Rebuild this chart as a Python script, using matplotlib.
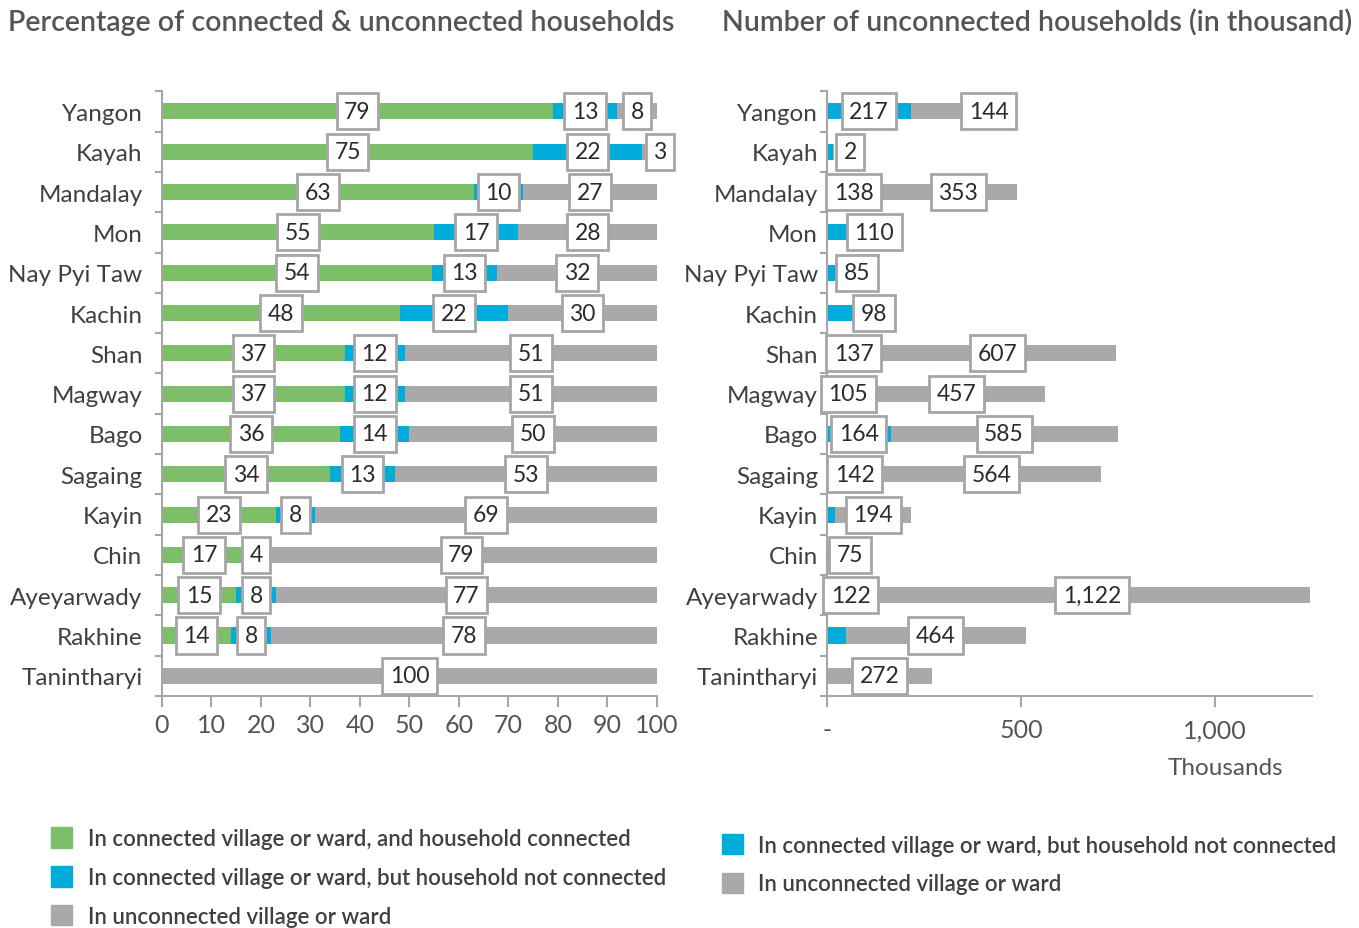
import numpy as np
import matplotlib.pyplot as plt
from matplotlib.patches import Patch

plt.rcParams['font.family'] = ['Lato', 'DejaVu Sans']

regions = ['Yangon', 'Kayah', 'Mandalay', 'Mon', 'Nay Pyi Taw', 'Kachin', 'Shan',
           'Magway', 'Bago', 'Sagaing', 'Kayin', 'Chin', 'Ayeyarwady', 'Rakhine',
           'Tanintharyi']

# percentages
pct_connected = [79, 75, 63, 55, 54.5, 48, 37, 37, 36, 34, 23, 17, 15, 14, 0]
pct_village_only = [13, 22, 10, 17, 13.2, 22, 12, 12, 14, 13, 8, 4, 8, 8, 0]
pct_unconnected = [8, 3, 27, 28, 32.3, 30, 51, 51, 50, 53, 69, 79, 77, 78, 100]

# thousands of unconnected households
num_village_only = [217, 15, 138, 67, 35, 72, 137, 105, 164, 142, 22, 4, 122, 48, 0]
num_unconnected = [144, 2, 353, 110, 85, 98, 607, 457, 585, 564, 194, 75, 1122, 464, 272]
show_blue_label = [True, False, True, False, False, False, True, True, True, True,
                   False, False, True, False, False]

GREEN = '#7dbf69'
BLUE = '#00acd9'
GRAY = '#a9a9ab'
EDGE = '#a6a6a6'
TXT = '#404040'

fig = plt.figure(figsize=(13.59, 9.29), dpi=100)
ax1 = fig.add_axes([0.1192, 0.2497, 0.3642, 0.651])
ax2 = fig.add_axes([0.6085, 0.2497, 0.3569, 0.651])

y = np.arange(len(regions))
h = 0.4
box = dict(boxstyle='square,pad=0.33', fc='white', ec=EDGE, lw=2)


def lab(ax, x, yy, s):
    ax.text(x, yy, s, ha='center', va='center', fontsize=16.5, color='#2b2b2b',
            bbox=box, zorder=5)


g = np.array(pct_connected)
b = np.array(pct_village_only)
u = np.array(pct_unconnected)
ax1.barh(y, g, height=h, color=GREEN)
ax1.barh(y, b, left=g, height=h, color=BLUE)
ax1.barh(y, u, left=g + b, height=h, color=GRAY)
for i in range(len(regions)):
    if g[i] > 0:
        lab(ax1, g[i] / 2, y[i], f'{g[i]:.0f}')
    if b[i] > 0:
        lab(ax1, g[i] + b[i] / 2, y[i], f'{b[i]:.0f}')
    xu = g[i] + b[i] + u[i] / 2
    if u[i] < 5:
        xu = 100.6
    lab(ax1, xu, y[i], f'{u[i]:.0f}')

nb = np.array(num_village_only)
nu = np.array(num_unconnected)
ax2.barh(y, nb, height=h, color=BLUE)
ax2.barh(y, nu, left=nb, height=h, color=GRAY)
for i in range(len(regions)):
    if show_blue_label[i]:
        lab(ax2, max(nb[i] / 2, 55), y[i], f'{nb[i]:,}')
        xg = max(nb[i] + nu[i] / 2, nb[i] + 200)
    else:
        xg = max(nb[i] + nu[i] / 2, 60)
    lab(ax2, xg, y[i], f'{nu[i]:,}')

for ax, pad in ((ax1, 14), (ax2, 6.5)):
    ax.set_ylim(len(regions) - 0.5, -0.5)
    ax.set_yticks(y)
    ax.set_yticklabels(regions, fontsize=17.5, color=TXT)
    ax.set_yticks(np.arange(-0.5, len(regions)), minor=True)
    ax.tick_params(axis='y', which='major', length=0, pad=pad)
    ax.tick_params(axis='y', which='minor', length=5, color=EDGE, width=1.5)
    ax.tick_params(axis='x', length=8, color=EDGE, width=1.5, labelsize=18,
                   labelcolor='#555555')
    for s in ('top', 'right'):
        ax.spines[s].set_visible(False)
    for s in ('left', 'bottom'):
        ax.spines[s].set_color(EDGE)
        ax.spines[s].set_linewidth(1.5)

ax1.set_xlim(0, 100)
ax1.set_xticks(np.arange(0, 101, 10))
ax1.tick_params(axis='x', pad=4)

ax2.set_xlim(0, 1250)
ax2.set_xticks([0, 500, 1000])
ax2.set_xticklabels(['-', '500', '1,000'])
ax2.tick_params(axis='x', pad=8)
ax2.set_xlabel('Thousands', fontsize=17.5, color='#555555')
ax2.xaxis.set_label_coords(0.822, -0.1)

fig.text(0.006, 0.975, 'Percentage of connected & unconnected households',
         fontsize=20.5, fontweight='semibold', color='#555555', va='center')
fig.text(0.531, 0.975, 'Number of unconnected households (in thousand)',
         fontsize=20.5, fontweight='semibold', color='#555555', va='center')

names = ['In connected village or ward, and household connected',
         'In connected village or ward, but household not connected',
         'In unconnected village or ward']
h1 = [Patch(color=c) for c in (GREEN, BLUE, GRAY)]
legend_style = dict(loc='upper left', frameon=False, handlelength=0.95,
                    handleheight=1.05, handletextpad=0.7, labelspacing=0.76,
                    labelcolor=TXT, borderaxespad=0,
                    prop={'weight': 'semibold', 'size': 16})
fig.legend(h1, names, bbox_to_anchor=(0.031, 0.118), **legend_style)
fig.legend(h1[1:], names[1:], bbox_to_anchor=(0.5245, 0.111), **legend_style)

fig.savefig('out.png', dpi=100)
